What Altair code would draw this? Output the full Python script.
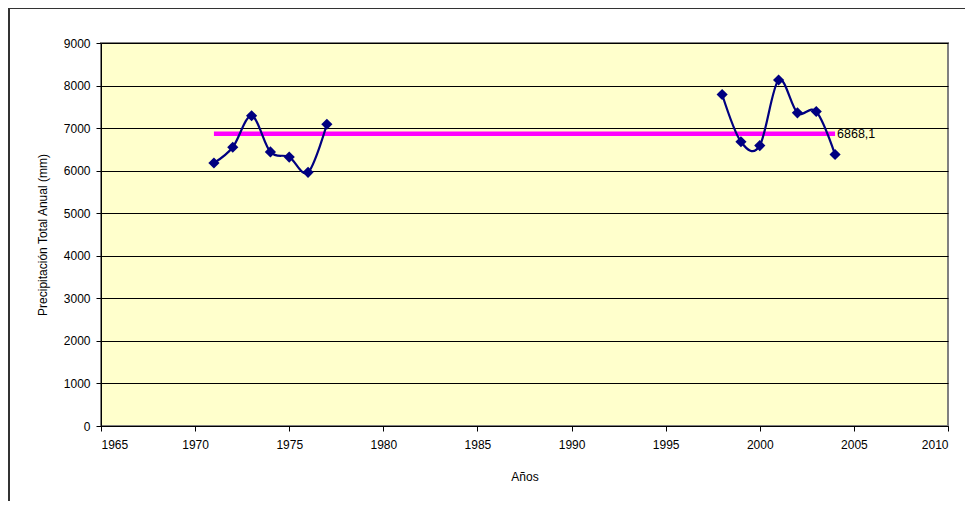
import altair as alt
import pandas as pd

# Data
years_a = [1971, 1972, 1973, 1974, 1975, 1976, 1977]
precip_a = [6180, 6550, 7290, 6440, 6320, 5960, 7090]
years_b = [1998, 1999, 2000, 2001, 2002, 2003, 2004]
precip_b = [7790, 6680, 6590, 8130, 7360, 7390, 6380]
mean_value = 6868.1
mean_label = "6868,1"
mean_start, mean_end = 1971, 2004

x_ticks = [1965, 1970, 1975, 1980, 1985, 1990, 1995, 2000, 2005, 2010]
y_ticks = [0, 1000, 2000, 3000, 4000, 5000, 6000, 7000, 8000, 9000]

df = pd.DataFrame({
    "year": years_a + years_b,
    "precip": precip_a + precip_b,
    "seg": ["a"] * len(years_a) + ["b"] * len(years_b),
})
mean_df = pd.DataFrame({"x": [mean_start], "x2": [mean_end], "y": [mean_value], "label": [mean_label]})

FONT = "Liberation Sans"

xscale = alt.Scale(domain=[1965, 2010], nice=False, zero=False)
yscale = alt.Scale(domain=[0, 9000], nice=False)

xaxis = alt.Axis(values=x_ticks, format="d", title="Años", grid=False,
                 domainColor="black", tickColor="black", tickSize=5,
                 labelPadding=8, titlePadding=21, labelFontSize=12, titleFontSize=12,
                 labelFont=FONT, titleFont=FONT, labelColor="black", titleColor="black",
                 titleFontWeight="normal")
yaxis = alt.Axis(values=y_ticks, format="d", title="Precipitación Total Anual (mm)",
                 grid=True, gridColor="black", gridWidth=1, gridOpacity=1,
                 domainColor="black", tickColor="black", tickSize=5,
                 labelPadding=6, titlePadding=14, labelFontSize=12, titleFontSize=12,
                 labelFont=FONT, titleFont=FONT, labelColor="black", titleColor="black",
                 titleFontWeight="normal")

base = alt.Chart(df)

mean_line = alt.Chart(mean_df).mark_rule(color="#FF00FF", strokeWidth=4.5).encode(
    x=alt.X("x:Q", scale=xscale, axis=xaxis),
    x2="x2:Q",
    y=alt.Y("y:Q", scale=yscale, axis=yaxis),
)

mean_text = alt.Chart(mean_df).mark_text(align="left", baseline="middle", dx=2,
                                         font=FONT, fontSize=12.5, color="black").encode(
    x=alt.X("x2:Q", scale=xscale),
    y=alt.Y("y:Q", scale=yscale),
    text="label:N",
)

line = base.mark_line(color="#000080", strokeWidth=2.2, interpolate="cardinal").encode(
    x=alt.X("year:Q", scale=xscale),
    y=alt.Y("precip:Q", scale=yscale),
    detail="seg:N",
)

points = base.mark_point(shape="diamond", filled=True, color="#000080", size=125, opacity=1).encode(
    x=alt.X("year:Q", scale=xscale),
    y=alt.Y("precip:Q", scale=yscale),
)

frame_df = pd.DataFrame({"a": [0]})
frame_top = alt.Chart(frame_df).mark_rule(color="#333333", strokeWidth=2).encode(
    x=alt.value(-92), x2=alt.value(1000), y=alt.value(-35))
frame_left = alt.Chart(frame_df).mark_rule(color="#333333", strokeWidth=2).encode(
    x=alt.value(-92), y=alt.value(-35), y2=alt.value(600))

chart = alt.layer(mean_line, line, points, mean_text, frame_top, frame_left).properties(
    width=847, height=383,
    autosize=alt.AutoSizeParams(type="none"),
    padding={"left": 93, "top": 35, "right": 17, "bottom": 75},
    background="white",
).configure_view(
    fill="#FFFFCC", stroke="#808080", strokeWidth=2
)

chart.save("out.html", embed_options={"renderer": "svg", "actions": False})
